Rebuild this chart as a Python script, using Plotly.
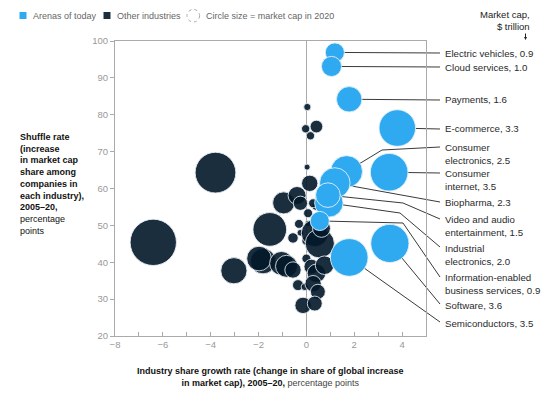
import plotly.graph_objects as go

# ---------------- data ----------------
arena_names = ["Electric vehicles", "Cloud services", "Payments", "E-commerce",
               "Consumer electronics", "Consumer internet", "Biopharma",
               "Industrial electronics", "Video and audio entertainment",
               "Information-enabled business services", "Software", "Semiconductors"]
arena_x = [1.19, 1.05, 1.79, 3.80, 1.68, 3.46, 1.19, 0.94, 0.90, 0.56, 3.49, 1.79]
arena_y = [96.9, 93.1, 84.2, 76.4, 64.6, 64.4, 61.5, 56.1, 58.2, 51.2, 45.1, 41.3]
arena_cap = [0.9, 1.0, 1.6, 3.3, 2.5, 3.5, 2.3, 2.0, 1.5, 0.9, 3.6, 3.5]

other_x = [0.04, 0.42, -0.03, 0.17, 0.03, -6.40, -3.80, -3.03, -1.53, -1.81, -1.98,
           -0.95, -0.39, -0.25, 0.14, -0.31, -0.56, -0.25, 0.00, 0.07, 0.38, 0.07,
           0.35, 0.56, -1.04, -0.83, -0.56, 0.00, 0.21, 0.42, 0.76, -0.35, -0.07,
           0.28, 0.48, -0.14, 0.35, 0.63, 0.28]
other_y = [82.1, 76.8, 76.2, 74.3, 65.8, 45.4, 64.3, 37.7, 48.9, 40.3, 41.0,
           56.1, 58.1, 56.0, 61.4, 50.4, 46.6, 48.0, 45.8, 53.3, 55.1, 50.5,
           47.9, 45.1, 39.7, 38.9, 37.9, 41.0, 38.8, 37.0, 39.2, 33.8, 33.3,
           34.2, 32.0, 28.3, 28.8, 49.2, 56.0]
other_cap = [0.13, 0.40, 0.17, 0.17, 0.09, 5.3, 4.1, 1.7, 2.8, 1.6, 1.5,
             1.2, 0.8, 0.5, 0.66, 0.2, 0.27, 0.11, 0.2, 0.2, 0.13, 0.09,
             1.8, 2.1, 1.4, 1.2, 0.66, 0.2, 0.55, 0.85, 0.85, 0.3, 0.13,
             0.66, 0.55, 0.66, 0.55, 0.8, 0.2]

label_texts = ["Electric vehicles, 0.9", "Cloud services, 1.0", "Payments, 1.6",
               "E-commerce, 3.3", "Consumer<br>electronics, 2.5", "Consumer<br>internet, 3.5",
               "Biopharma, 2.3", "Industrial<br>electronics, 2.0",
               "Video and audio<br>entertainment, 1.5",
               "Information-enabled<br>business services, 0.9", "Software, 3.6",
               "Semiconductors, 3.5"]

X_RANGE = [-8, 5]
Y_RANGE = [20, 100]
x_tickvals = [-8, -6, -4, -2, 0, 2, 4]
y_tickvals = [20, 30, 40, 50, 60, 70, 80, 90, 100]

# ---------------- layout helpers ----------------
OFF = 8                      # page body margin offset
W, H = 553 - OFF, 396 - OFF
L, R, T, B = 115, 426, 41, 336   # plot area in reference pixels
BLUE = "#2fa9f0"
DARK = "#03182a"
FONT = "Liberation Sans, Arial, sans-serif"


def px_x(px):
    return (px - L) / (R - L)


def px_y(py):
    return (B - py) / (B - T)


def d_x(x):
    return (x - X_RANGE[0]) / (X_RANGE[1] - X_RANGE[0])


def d_y(y):
    return (y - Y_RANGE[0]) / (Y_RANGE[1] - Y_RANGE[0])


# label layout (reference pixel positions) and leader waypoints
label_py = [53, 67, 100, 129, 153.5, 179.5, 202, 254.5, 225.5, 283.5, 305, 323]
leader_pts = [
    [(440, 53)], [(440, 67)], [(440, 100)], [(440, 129)],
    [(382, 150), (440, 147)], [(440, 173)], [(440, 202)],
    [(400, 213), (440, 247)], [(403, 203), (440, 219)],
    [(403, 223), (440, 277)], [(440, 304)], [(440, 322)],
]

SIZEREF = 1.6 / 324.0

fig = go.Figure()
fig.add_trace(go.Scatter(
    x=other_x, y=other_y, mode="markers",
    marker=dict(size=other_cap, sizemode="area", sizeref=SIZEREF, sizemin=0,
                color=DARK, opacity=0.9,
                line=dict(color="rgba(235,240,245,0.9)", width=1)),
    hoverinfo="skip", showlegend=False))

draw_order = [4, 5, 0, 1, 2, 3, 6, 7, 8, 9, 10, 11]
fig.add_trace(go.Scatter(
    x=[arena_x[i] for i in draw_order], y=[arena_y[i] for i in draw_order],
    mode="markers",
    marker=dict(size=[arena_cap[i] for i in draw_order], sizemode="area",
                sizeref=SIZEREF, color=BLUE, opacity=1,
                line=dict(color="rgba(225,240,250,0.9)", width=1)),
    hoverinfo="skip", showlegend=False))

shapes = []
annotations = []
for i, txt in enumerate(label_texts):
    pts = [(d_x(arena_x[i]), d_y(arena_y[i]))] + [(px_x(a), px_y(b)) for a, b in leader_pts[i]]
    for (x0, y0), (x1, y1) in zip(pts[:-1], pts[1:]):
        shapes.append(dict(type="line", xref="paper", yref="paper", x0=x0, y0=y0,
                           x1=x1, y1=y1, layer="below",
                           line=dict(color="#3a3a3a", width=1)))
    annotations.append(dict(xref="paper", yref="paper", x=px_x(443), y=px_y(label_py[i]),
                            xanchor="left", yanchor="middle", align="left",
                            text=txt, showarrow=False,
                            font=dict(family=FONT, size=9.7, color="#2a2a2a")))

# legend
shapes.append(dict(type="rect", xref="paper", yref="paper", x0=px_x(19.5), x1=px_x(26.5),
                   y0=px_y(19), y1=px_y(12), fillcolor=BLUE, line=dict(width=0)))
shapes.append(dict(type="rect", xref="paper", yref="paper", x0=px_x(103.5), x1=px_x(110.5),
                   y0=px_y(19), y1=px_y(12), fillcolor="#1b2e3d", line=dict(width=0)))
shapes.append(dict(type="circle", xref="paper", yref="paper", x0=px_x(187), x1=px_x(199.6),
                   y0=px_y(22), y1=px_y(9.4), line=dict(color="#aaaaaa", width=1, dash="dot")))
for xx, t in [(30.5, "Arenas of today"), (114.5, "Other industries"),
              (203.5, "Circle size = market cap in 2020")]:
    annotations.append(dict(xref="paper", yref="paper", x=px_x(xx), y=px_y(15.6),
                            xanchor="left", yanchor="middle", text=t, showarrow=False,
                            font=dict(family=FONT, size=9, color="#666666")))
annotations.append(dict(xref="paper", yref="paper", x=px_x(532), y=px_y(21),
                        xanchor="right", yanchor="middle", align="right",
                        text="Market cap,<br>$ trillion", showarrow=False,
                        font=dict(family=FONT, size=9.5, color="#222222")))
annotations.append(dict(xref="paper", yref="paper", x=px_x(525.5), y=px_y(40),
                        ax=0, ay=-8, text="", showarrow=True, arrowhead=2,
                        arrowsize=0.6, arrowwidth=1, arrowcolor="#222222"))

# axis titles
annotations.append(dict(xref="paper", yref="paper", x=px_x(18), y=px_y(129.5),
                        xanchor="left", yanchor="top", align="left", showarrow=False,
                        text=("<b>Shuffle rate<br>(increase<br>in market cap<br>share among<br>"
                              "companies in<br>each industry),<br>2005–20,</b><br>percentage<br>points"),
                        font=dict(family=FONT, size=9, color="#111111")))
annotations.append(dict(xref="paper", yref="paper", x=px_x(270.8), y=px_y(376.7),
                        xanchor="center", yanchor="middle", align="center", showarrow=False,
                        text=("<b>Industry share growth rate (change in share of global increase<br>"
                              "in market cap), 2005–20,</b> <span style='color:#444'>percentage points</span>"),
                        font=dict(family=FONT, size=9, color="#111111")))

fig.update_layout(
    width=W, height=H,
    margin=dict(l=L - OFF, r=W - (R - OFF), t=T - OFF, b=H - (B - OFF), pad=0),
    paper_bgcolor="white", plot_bgcolor="white",
    font=dict(family=FONT, size=9.5, color="#999999"),
    shapes=shapes, annotations=annotations, showlegend=False,
    xaxis=dict(range=X_RANGE, tickvals=x_tickvals, ticks="inside", ticklen=4,
               tickcolor="#aaaaaa", showgrid=False, showline=True, linecolor="#aaaaaa",
               linewidth=1, mirror=True, zeroline=True, zerolinecolor="#aaaaaa",
               zerolinewidth=1, tickfont=dict(size=9.5, color="#999999"),
               minor=dict(dtick=1, ticks="inside", ticklen=4, tickcolor="#aaaaaa",
                          showgrid=False)),
    yaxis=dict(range=Y_RANGE, tickvals=y_tickvals, ticks="outside", ticklen=4,
               tickcolor="#aaaaaa", showgrid=False, showline=True, linecolor="#aaaaaa",
               linewidth=1, mirror=True, zeroline=False,
               tickfont=dict(size=9.5, color="#999999")),
)

fig.write_html("out.html")
